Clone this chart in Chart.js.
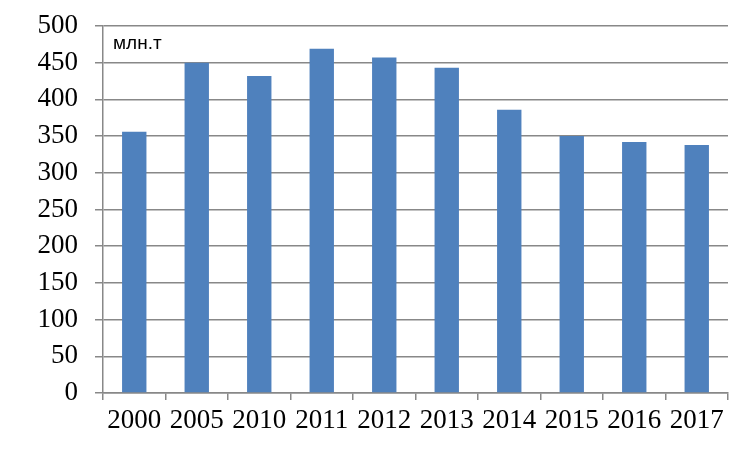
<!DOCTYPE html>
<html>
<head>
<meta charset="utf-8">
<script src="https://cdn.jsdelivr.net/npm/chart.js@4"></script>
<style>
  html, body { margin: 0; padding: 0; background: #fff; }
  #wrap { width: 750px; height: 450px; }
</style>
</head>
<body>
<div id="wrap"><canvas id="barChart" width="750" height="450"></canvas></div>
<script>
// годы и значения (млн.т)
const years = ['2000', '2005', '2010', '2011', '2012', '2013', '2014', '2015', '2016', '2017'];
const values = [356, 450, 432, 469, 457, 443, 386, 350, 342, 338];
const yTicks = [0, 50, 100, 150, 200, 250, 300, 350, 400, 450, 500];
const unitLabel = 'млн.т';

// подпись единиц в углу графика
const unitPlugin = {
  id: 'unitLabel',
  afterDraw(chart) {
    const { ctx, chartArea } = chart;
    ctx.save();
    ctx.font = '19px "Liberation Sans", Arial, sans-serif';
    ctx.fillStyle = '#000';
    ctx.textAlign = 'left';
    ctx.textBaseline = 'middle';
    ctx.fillText(unitLabel, chartArea.left + 10, chartArea.top + 18);
    ctx.restore();
  }
};

const axisFont = { family: '"Liberation Serif", "Times New Roman", serif', size: 27 };

const ctx = document.getElementById('barChart').getContext('2d');

new Chart(ctx, {
  type: 'bar',
  data: {
    labels: years,
    datasets: [{
      data: values,
      backgroundColor: '#4F81BD',
      barPercentage: 0.39,
      categoryPercentage: 1
    }]
  },
  options: {
    responsive: false,
    animation: false,
    layout: { padding: { top: 26, right: 22, left: 0, bottom: 0 } },
    plugins: { legend: { display: false }, tooltip: { enabled: false } },
    scales: {
      x: {
        offset: true,
        grid: { drawOnChartArea: false, drawTicks: true, tickLength: 7, color: '#888', lineWidth: 1.5, offset: true },
        border: { color: '#888', width: 1.5 },
        ticks: { color: '#000', font: axisFont, padding: 5, maxRotation: 0, autoSkip: false },
        afterFit(scale) {
          scale.height = 57;
          scale.paddingLeft = 0;
          scale.paddingRight = 0;
        }
      },
      y: {
        min: 0,
        max: 500,
        afterBuildTicks(scale) { scale.ticks = yTicks.map(v => ({ value: v })); },
        grid: { color: '#888', lineWidth: 1.5, tickLength: 8 },
        border: { color: '#888', width: 1.5 },
        ticks: { color: '#000', font: axisFont, padding: 17, autoSkip: false },
        afterFit(scale) {
          scale.width = 103;
          scale.paddingTop = 0;
          scale.paddingBottom = 0;
        }
      }
    }
  },
  plugins: [unitPlugin]
});
</script>
</body>
</html>
